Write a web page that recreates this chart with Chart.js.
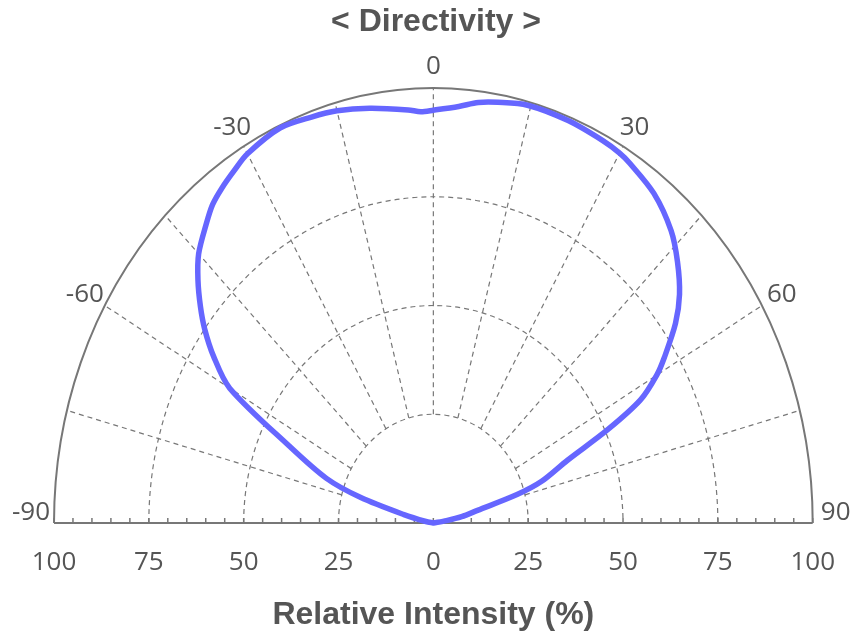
<!DOCTYPE html>
<html>
<head>
<meta charset="utf-8">
<script src="https://cdn.jsdelivr.net/npm/chart.js@4/dist/chart.umd.min.js"></script>
<style>
  html, body { margin: 0; padding: 0; background: #fff; }
  #wrap { width: 859px; height: 636px; }
</style>
</head>
<body>
<div id="wrap"><canvas id="directivity-chart"></canvas></div>
<script>
// measured directivity: angle (deg) and relative intensity (%)
const angles = [-90, -80, -76, -73, -70, -65, -60, -56.5, -53.5, -51, -48, -45, -41, -38.5,
    -36, -33, -30, -24, -19, -15, -10, -4, -2, 0, 4, 7, 10, 14.5, 21, 27, 30, 32, 37.5,
    43, 47, 51, 54.3, 58, 60, 62.6, 65, 67.8, 71.5, 73.5, 76, 79, 81, 90];
const intensity = [0, 2, 8, 20, 30, 42, 62, 69.5, 75, 79, 83.5, 87.5, 91.2, 93.5,
    95, 96.5, 98, 99.4, 98.7, 98.1, 96.8, 95.2, 94.6, 94.9, 96, 97.4, 98.2, 99.2, 99.1, 98.6, 98.2, 97.6, 95.5,
    91.9, 88, 83.5, 78.6, 71.8, 68, 61.5, 50.6, 38.2, 30, 23, 12, 7.6, 3.5, 0];

const angleLabels = [-90, -60, -30, 0, 30, 60, 90];
const spokeAngles = [-75, -60, -45, -30, -15, 0, 15, 30, 45, 60, 75];
const gridRings = [25, 50, 75];

const toRad = a => a * Math.PI / 180;
const curvePoints = angles.map((a, i) => ({
    x: intensity[i] * Math.sin(toRad(a)),
    y: intensity[i] * Math.cos(toRad(a))
}));

const polarGrid = {
    id: 'polarGrid',
    beforeDatasetsDraw(chart) {
        const {ctx, scales: {x, y}} = chart;
        const cx = x.getPixelForValue(0);
        const cy = y.getPixelForValue(0);
        const px = (r, a) => x.getPixelForValue(r * Math.sin(toRad(a)));
        const py = (r, a) => y.getPixelForValue(r * Math.cos(toRad(a)));

        ctx.save();
        ctx.strokeStyle = '#777';
        ctx.lineWidth = 1.2;
        ctx.setLineDash([5, 4]);
        gridRings.forEach(r => {
            ctx.beginPath();
            ctx.ellipse(cx, cy, px(r, 90) - cx, cy - py(r, 0), 0, Math.PI, 2 * Math.PI);
            ctx.stroke();
        });
        spokeAngles.forEach(a => {
            ctx.beginPath();
            ctx.moveTo(px(25, a), py(25, a));
            ctx.lineTo(px(100, a), py(100, a));
            ctx.stroke();
        });

        ctx.setLineDash([]);
        ctx.lineWidth = 2;
        ctx.beginPath();
        ctx.ellipse(cx, cy, px(100, 90) - cx, cy - py(100, 0), 0, Math.PI, 2 * Math.PI);
        ctx.stroke();
        ctx.beginPath();
        ctx.moveTo(x.getPixelForValue(-100), cy);
        ctx.lineTo(x.getPixelForValue(100), cy);
        ctx.stroke();

        // small tick marks pointing up from the baseline
        ctx.lineWidth = 1.5;
        x.ticks.forEach(t => {
            const tx = x.getPixelForValue(t.value);
            ctx.beginPath();
            ctx.moveTo(tx, cy);
            ctx.lineTo(tx, cy - 5);
            ctx.stroke();
        });

        // angle labels outside the rim
        ctx.fillStyle = '#555';
        ctx.font = '26px "Open Sans"';
        ctx.textAlign = 'center';
        ctx.textBaseline = 'middle';
        angleLabels.forEach(a => {
            const lift = Math.abs(a) === 90 ? 10 : 21 * Math.cos(toRad(a));
            ctx.fillText(String(a), px(100, a) + 23 * Math.sin(toRad(a)), py(100, a) - lift);
        });
        ctx.restore();
    }
};

const directivityChart = new Chart(document.getElementById('directivity-chart'), {
    type: 'scatter',
    data: {
        datasets: [{
            data: curvePoints,
            showLine: true,
            borderColor: '#6666ff',
            borderWidth: 5.5,
            borderJoinStyle: 'round',
            borderCapStyle: 'round',
            pointRadius: 0,
            tension: 0.3,
            clip: false
        }]
    },
    options: {
        responsive: true,
        maintainAspectRatio: false,
        animation: false,
        layout: {
            padding: { left: 54, right: 41, top: 0, bottom: 0 }
        },
        scales: {
            x: {
                min: -100,
                max: 100,
                grid: { display: false, drawTicks: false },
                border: { display: false },
                ticks: {
                    stepSize: 5,
                    autoSkip: false,
                    maxRotation: 0,
                    padding: 24,
                    color: '#555',
                    font: { family: 'Open Sans', size: 26 },
                    callback: v => v % 25 === 0 ? Math.abs(v) : ''
                },
                title: {
                    display: true,
                    text: 'Relative Intensity (%)',
                    color: '#555',
                    font: { family: 'Liberation Sans', size: 32, weight: 'bold' },
                    padding: { top: 0, bottom: 2 }
                },
                afterFit: scale => { scale.height = 113; }
            },
            y: {
                display: false,
                min: 0,
                max: 100
            }
        },
        plugins: {
            legend: { display: false },
            tooltip: { enabled: false },
            title: {
                display: true,
                text: '< Directivity >',
                color: '#555',
                font: { family: 'Liberation Sans', size: 32, weight: 'bold' },
                padding: { top: 3, bottom: 46.6 }
            }
        }
    },
    plugins: [polarGrid]
});
</script>
</body>
</html>
